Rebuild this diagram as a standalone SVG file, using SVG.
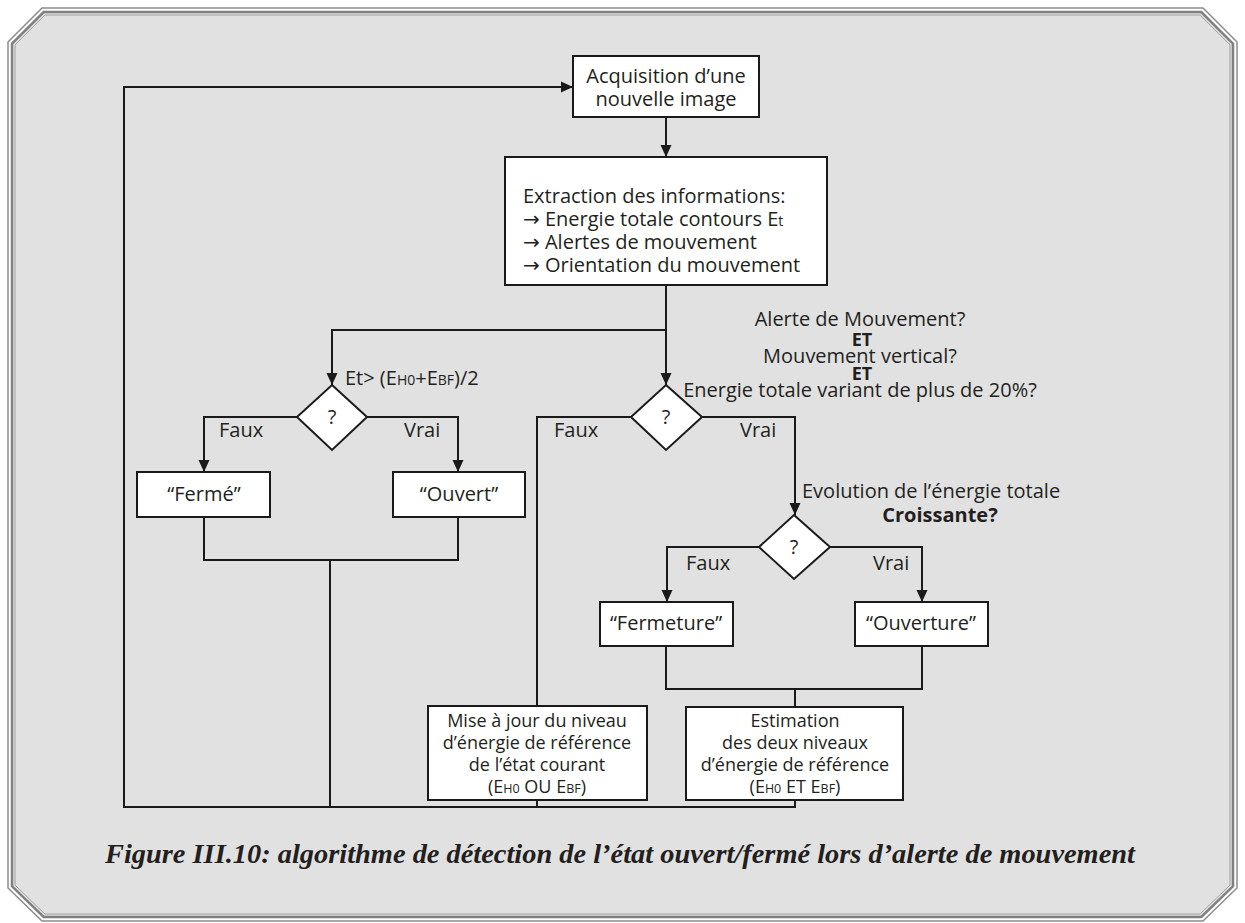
<svg xmlns="http://www.w3.org/2000/svg" width="1245" height="923" viewBox="0 0 1245 923">
<defs>
<marker id="arr" markerUnits="userSpaceOnUse" viewBox="0 0 12 12" refX="12" refY="6" markerWidth="12" markerHeight="12" orient="auto">
<path d="M0,0.5 L12,6 L0,11.5 z" fill="#1a1a1a"/>
</marker>
<style>
.box{fill:#fff;stroke:#1a1a1a;stroke-width:2}
.ln{fill:none;stroke:#1a1a1a;stroke-width:2}
.t{font-family:"Open Sans","Noto Sans",sans-serif;font-size:20px;fill:#231f20}
.s{font-family:"Open Sans","Noto Sans",sans-serif;font-size:18px;fill:#231f20}
.m{text-anchor:middle}
.b{font-weight:bold;font-size:18px}
.a{font-family:"DejaVu Sans",sans-serif}
</style>
</defs>
<rect width="1245" height="923" fill="#fff"/>
<g id="frame">
<polygon points="8,42 42,8 1203,8 1237,42 1237,888 1203,921 42,921 8,888" fill="#fff" stroke="#8c8c8c" stroke-width="1.5"/>
<polygon points="12,43.7 43.7,12 1201.3,12 1233,43.7 1233,886.3 1201.3,917 43.7,917 12,886.3" fill="#e1e1e1" stroke="#808080" stroke-width="2.5"/>
<polygon points="15,44.9 44.9,15 1200.1,15 1230,44.9 1230,885.1 1200.1,914 44.9,914 15,885.1" fill="none" stroke="#a0a0a0" stroke-width="1"/>
</g>
<g id="connectors">
<path class="ln" d="M666,117 V157" marker-end="url(#arr)"/>
<path class="ln" d="M666,285 V385" marker-end="url(#arr)"/>
<path class="ln" d="M666,330 H332 V385" marker-end="url(#arr)"/>
<path class="ln" d="M297,417 H204 V472" marker-end="url(#arr)"/>
<path class="ln" d="M367,417 H458 V472" marker-end="url(#arr)"/>
<path class="ln" d="M204,517 V560 H458 V517"/>
<path class="ln" d="M330,560 V807"/>
<path class="ln" d="M631,417 H537 V706"/>
<path class="ln" d="M702,417 H795 V515" marker-end="url(#arr)"/>
<path class="ln" d="M759,547 H667 V602" marker-end="url(#arr)"/>
<path class="ln" d="M830,547 H922 V602" marker-end="url(#arr)"/>
<path class="ln" d="M666,646 V689 H922 V646"/>
<path class="ln" d="M795,689 V707"/>
<path class="ln" d="M537,800 V807"/>
<path class="ln" d="M795,800 V807 H124 V87 H573" marker-end="url(#arr)"/>
</g>
<g id="acquisition">
<rect class="box" x="573" y="56" width="186" height="61"/>
<text class="t m" x="666" y="83">Acquisition d’une</text>
<text class="t m" x="666" y="106">nouvelle image</text>
</g>
<g id="extraction">
<rect class="box" x="505" y="157" width="322" height="128"/>
<text class="t" x="523" y="203">Extraction des informations:</text>
<text class="t" x="523" y="226"><tspan class="a">→</tspan> Energie totale contours E<tspan font-size="14">t</tspan></text>
<text class="t" x="523" y="249"><tspan class="a">→</tspan> Alertes de mouvement</text>
<text class="t" x="523" y="272"><tspan class="a">→</tspan> Orientation du mouvement</text>
</g>
<g id="decision1">
<polygon class="box" points="332,385 367,417 332,450 297,417"/>
<text class="t m" x="332" y="424">?</text>
<text class="t" x="345" y="385">Et&gt; (E<tspan font-size="14">H0</tspan>+E<tspan font-size="14">BF</tspan>)/2</text>
<text class="t" x="219" y="437">Faux</text>
<text class="t" x="404" y="437">Vrai</text>
</g>
<g id="ferme">
<rect class="box" x="137" y="472" width="133" height="45"/>
<text class="t m" x="204" y="501">“Fermé”</text>
</g>
<g id="ouvert">
<rect class="box" x="393" y="472" width="132" height="45"/>
<text class="t m" x="459" y="501">“Ouvert”</text>
</g>
<g id="decision2">
<polygon class="box" points="666,385 702,417 666,450 631,417"/>
<text class="t m" x="666" y="424">?</text>
<text class="t m" x="860" y="326">Alerte de Mouvement?</text>
<text class="t m b" x="862" y="346">ET</text>
<text class="t m" x="860" y="363">Mouvement vertical?</text>
<text class="t m b" x="862" y="380">ET</text>
<text class="t m" x="860" y="397">Energie totale variant de plus de 20%?</text>
<text class="t" x="554" y="437">Faux</text>
<text class="t" x="740" y="437">Vrai</text>
</g>
<g id="decision3">
<polygon class="box" points="794,515 830,547 794,579 759,547"/>
<text class="t m" x="794" y="554">?</text>
<text class="t" x="802" y="498">Evolution de l’énergie totale</text>
<text class="t m" x="940" y="522" font-weight="bold">Croissante?</text>
<text class="t" x="686" y="570">Faux</text>
<text class="t" x="873" y="570">Vrai</text>
</g>
<g id="fermeture">
<rect class="box" x="600" y="602" width="133" height="44"/>
<text class="t m" x="666" y="630">“Fermeture”</text>
</g>
<g id="ouverture">
<rect class="box" x="855" y="602" width="133" height="44"/>
<text class="t m" x="921" y="630">“Ouverture”</text>
</g>
<g id="miseajour">
<rect class="box" x="428" y="706" width="219" height="94"/>
<text class="s m" x="537" y="727">Mise à jour du niveau</text>
<text class="s m" x="537" y="749">d’énergie de référence</text>
<text class="s m" x="537" y="771">de l’état courant</text>
<text class="s m" x="537" y="793">(E<tspan font-size="12.5">H0</tspan> OU E<tspan font-size="12.5">BF</tspan>)</text>
</g>
<g id="estimation">
<rect class="box" x="686" y="707" width="217" height="93"/>
<text class="s m" x="795" y="727">Estimation</text>
<text class="s m" x="795" y="749">des deux niveaux</text>
<text class="s m" x="795" y="771">d’énergie de référence</text>
<text class="s m" x="795" y="793">(E<tspan font-size="12.5">H0</tspan> ET E<tspan font-size="12.5">BF</tspan>)</text>
</g>
<g id="caption">
<text x="105" y="863" font-family="Liberation Serif,serif" font-weight="bold" font-style="italic" font-size="27" fill="#231f20" textLength="1030" lengthAdjust="spacingAndGlyphs">Figure III.10: algorithme de détection de l’état ouvert/fermé lors d’alerte de mouvement</text>
</g>
</svg>
